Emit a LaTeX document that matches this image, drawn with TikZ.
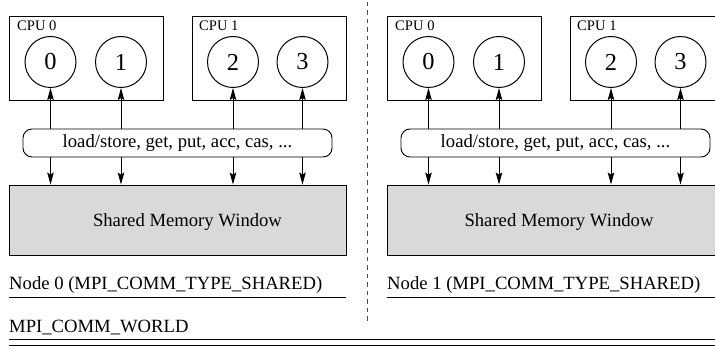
\documentclass[tikz,border=0pt]{standalone}
\usepackage{fontspec}
\setmainfont{Liberation Serif}
\usetikzlibrary{arrows.meta}
\newcommand\mainsz{\fontsize{18.66}{22}\selectfont}
\newcommand\cpusz{\fontsize{14.6}{17}\selectfont}
\newcommand\digsz{\fontsize{24.4}{28}\selectfont}
\tikzset{
  cpubox/.style={draw, line width=0.9pt, minimum width=154pt, minimum height=84pt, inner sep=0pt},
  proc/.style={draw, circle, line width=1pt, minimum size=51pt, inner sep=0pt, font=\digsz},
  cpulabel/.style={anchor=base west, inner sep=0pt, font=\cpusz},
  opsbox/.style={draw, rounded corners=9pt, line width=0.9pt, minimum width=309pt, minimum height=28pt, inner sep=0pt, font=\mainsz},
  smbox/.style={draw, fill=black!15, line width=0.9pt, minimum width=337pt, minimum height=70pt, inner sep=0pt},
  txt/.style={inner sep=0pt, font=\mainsz},
  arr/.style={line width=0.9pt, -{Stealth[length=12pt,width=6.5pt,inset=2pt]}},
  rule/.style={line width=1pt},
}
\newcommand\nodehalf[3]{%
  % #1 node number, #2 x of the shared-memory text centre
  \node[cpubox] (cpu0) at (86,58) {};
  \node[cpubox] (cpu1) at (269,58) {};
  \node[cpulabel] (cpu0l) at (17,30.5) {CPU 0};
  \node[cpulabel] (cpu1l) at (199,30.5) {CPU 1};
  \node[proc] (p0) at (50.5,62) {0};
  \node[proc] (p1) at (121,62) {1};
  \node[proc] (p2) at (233,62) {2};
  \node[proc] (p3) at (302.5,62) {3};
  \node[opsbox] (ops) at (177.5,143) {load/store, get, put, acc, cas, ...};
  \node[smbox] (sm) at (177.5,220) {};
  \node[txt, anchor=base] (smt) at (#2,226.5) {Shared Memory Window};
  \foreach \p in {p0,p1,p2,p3}{
    \draw[arr] (ops.north -| \p) -- (\p.south);
    \draw[arr] (ops.south -| \p) -- (sm.north -| \p);
  }
  \node[txt, anchor=base west] (nl) at (9,290) {Node #1 (MPI\_COMM\_TYPE\_SHARED)};
  \coordinate (nla) at (9,297.5);
  \coordinate (nlb) at (346,297.5);
  \draw[rule] (nla) -- (nlb);
}
\begin{document}
\begin{tikzpicture}[x=1pt,y=-1pt]
\useasboundingbox (0,0) rectangle (715,347);
\clip (0,0) rectangle (715,347);
\begin{scope}[name prefix=L-]
  \nodehalf{0}{187.5}{}
\end{scope}
\begin{scope}[xshift=378pt, name prefix=R-]
  \nodehalf{1}{181}{}
\end{scope}
\coordinate (dtop) at (367,2);
\coordinate (dbot) at (367,322);
\draw[line width=0.9pt, black!70, dash pattern=on 4.3pt off 4.2pt] (dtop) -- (dbot);
\node[txt, anchor=base west] (world) at (9,333) {MPI\_COMM\_WORLD};
\coordinate (w1a) at (9,339.5);
\coordinate (w1b) at (725,339.5);
\coordinate (w2a) at (9,345.5);
\coordinate (w2b) at (725,345.5);
\draw[rule] (w1a) -- (w1b);
\draw[rule] (w2a) -- (w2b);
\end{tikzpicture}
\end{document}
